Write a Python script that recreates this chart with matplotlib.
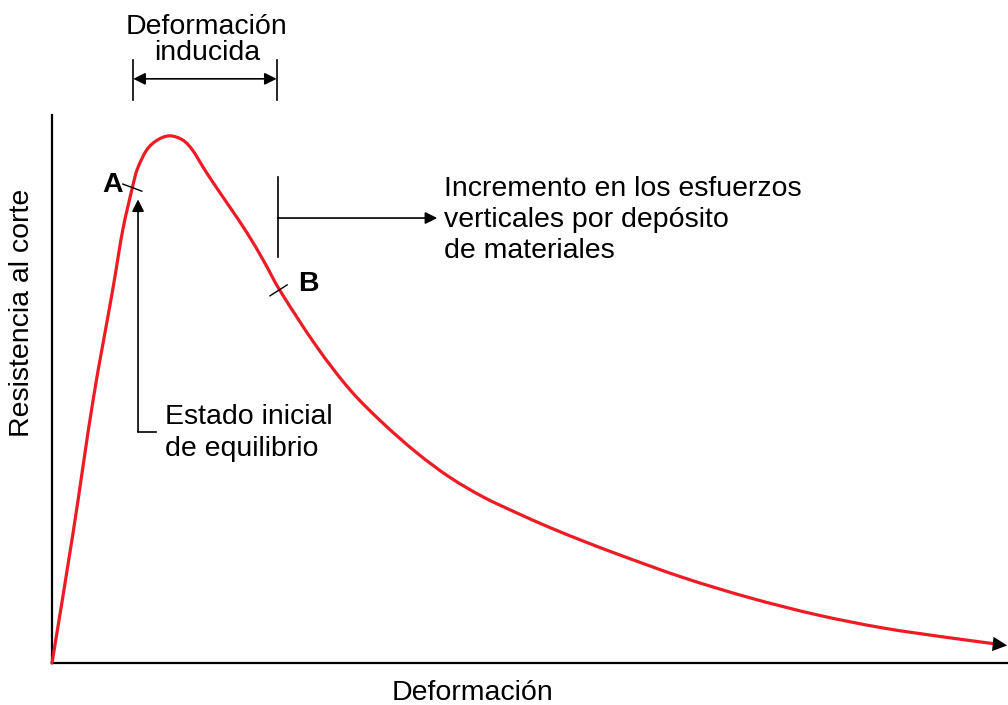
import matplotlib
matplotlib.use("Agg")
import matplotlib.pyplot as plt
from matplotlib.path import Path
from matplotlib.patches import PathPatch

plt.rcParams['font.family'] = ['Liberation Sans', 'DejaVu Sans']

# Curve values (arbitrary units, 0-100 on both axes)
deformacion = [0, 2.2, 4.3, 6.4, 7.4, 8.4, 8.9, 9.9, 11.0, 12.3, 13.7, 14.7, 15.8,
               16.8, 18.6, 20.4, 22.1, 23.8, 27.7, 31.2, 34.6, 38.2, 41.6, 45.1,
               48.6, 52.1, 55.5, 59.1, 66.0, 73.0, 80.0, 86.9, 93.9, 99.5]
resistencia = [0, 23.7, 48.0, 68.6, 79.0, 86.7, 90.0, 93.6, 95.4, 96.2, 95.4, 93.6, 90.5,
               87.8, 83.2, 78.5, 73.5, 68.1, 57.7, 49.8, 43.8, 38.3, 33.9, 30.3,
               27.4, 24.7, 22.3, 19.9, 15.6, 11.9, 8.8, 6.4, 4.6, 3.3]

W, H = 1008, 705
fig = plt.figure(figsize=(W / 100, H / 100), dpi=100)
ax = fig.add_axes([52 / W, 42 / H, 956 / W, 548 / H])
ax.set_xlim(0, 100)
ax.set_ylim(0, 100)
for s in ['top', 'right']:
    ax.spines[s].set_visible(False)
for s in ['left', 'bottom']:
    ax.spines[s].set_linewidth(1.6)
    ax.spines[s].set_color('black')
ax.set_xticks([])
ax.set_yticks([])

red = '#ED1C24'

# smooth rendering of the line through the read points (cubic Hermite -> Bezier)
xs, ys = deformacion, resistencia
n = len(xs)
slopes = []
for i in range(n):
    if i == 0:
        slopes.append((ys[1] - ys[0]) / (xs[1] - xs[0]))
    elif i == n - 1:
        slopes.append((ys[-1] - ys[-2]) / (xs[-1] - xs[-2]))
    else:
        slopes.append((ys[i + 1] - ys[i - 1]) / (xs[i + 1] - xs[i - 1]))
verts = [(xs[0], ys[0])]
codes = [Path.MOVETO]
for i in range(n - 1):
    h = xs[i + 1] - xs[i]
    verts += [(xs[i] + h / 3, ys[i] + slopes[i] * h / 3),
              (xs[i + 1] - h / 3, ys[i + 1] - slopes[i + 1] * h / 3),
              (xs[i + 1], ys[i + 1])]
    codes += [Path.CURVE4] * 3
curve = PathPatch(Path(verts, codes), facecolor='none', edgecolor=red, lw=2.3,
                  capstyle='round', joinstyle='round', zorder=3, clip_on=False)
ax.add_patch(curve)

# end arrowhead
ax.annotate('', xy=(100.2, 3.15), xytext=(98.0, 3.55),
            arrowprops=dict(arrowstyle='-|>', color='black', lw=0, mutation_scale=26),
            annotation_clip=False, zorder=4)

fs = 20.5
lw_a = 1.2

# A mark
ax.plot([7.4, 9.4], [87.4, 86.1], color='black', lw=1.0, zorder=4)
ax.text(6.3, 87.2, 'A', fontsize=fs, fontweight='bold', ha='center', va='center')

# B mark
ax.plot([22.8, 24.6], [67.0, 69.0], color='black', lw=1.0, zorder=4)
ax.text(26.8, 69.2, 'B', fontsize=fs, fontweight='bold', ha='center', va='center')

# Estado inicial de equilibrio
ax.plot([10.9, 9.0], [42.2, 42.2], color='black', lw=lw_a)
ax.annotate('', xy=(9.0, 84.6), xytext=(9.0, 42.2),
            arrowprops=dict(arrowstyle='-|>', color='black', lw=lw_a, mutation_scale=18,
                            shrinkA=0, shrinkB=0))
ax.text(11.8, 42.0, 'Estado inicial\nde equilibrio', fontsize=fs, ha='left', va='center',
        linespacing=1.27)

# Incremento en los esfuerzos
ax.plot([23.6, 23.6], [74.1, 88.7], color='black', lw=lw_a)
ax.annotate('', xy=(40.3, 81.2), xytext=(23.6, 81.2),
            arrowprops=dict(arrowstyle='-|>', color='black', lw=lw_a, mutation_scale=18,
                            shrinkA=0, shrinkB=0))
ax.text(41.0, 80.8, 'Incremento en los esfuerzos\nverticales por depósito\nde materiales',
        fontsize=fs, ha='left', va='center', linespacing=1.24)

# Deformación inducida (above axes)
ax.plot([8.5, 8.5], [102.7, 110.0], color='black', lw=lw_a, clip_on=False)
ax.plot([23.5, 23.5], [102.7, 110.0], color='black', lw=lw_a, clip_on=False)
ax.annotate('', xy=(8.5, 106.6), xytext=(23.5, 106.6),
            arrowprops=dict(arrowstyle='<|-|>', color='black', lw=lw_a, mutation_scale=18,
                            shrinkA=0, shrinkB=0), annotation_clip=False)
ax.text(16.2, 113.7, 'Deformación\ninducida', fontsize=fs, ha='center', va='center',
        linespacing=1.0)

# axis labels
fig.text(472 / W, 1 - 693 / H, 'Deformación', fontsize=fs, ha='center', va='center')
fig.text(22 / W, 1 - 313 / H, 'Resistencia al corte', fontsize=fs, ha='center', va='center',
         rotation=90)

fig.savefig('out.png', dpi=100)
